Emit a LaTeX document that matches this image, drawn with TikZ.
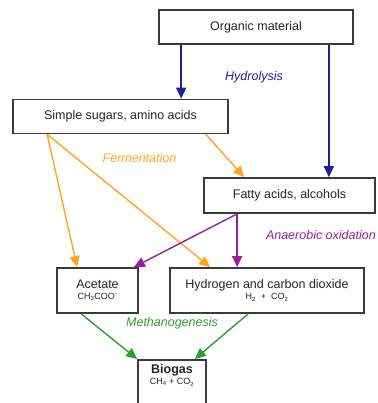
\documentclass[tikz,border=0pt]{standalone}
\usepackage{fontspec}
\setmainfont{Liberation Sans}
\usetikzlibrary{arrows.meta}
\tikzset{>={Triangle[length=11pt,width=10pt]}}

\definecolor{hydroblue}{HTML}{1F1F99}
\definecolor{fermorange}{HTML}{FFA51F}
\definecolor{anoxpurple}{HTML}{9A1F9E}
\definecolor{methgreen}{HTML}{2F9E2F}
\definecolor{boxline}{HTML}{3A3A3A}

\newcommand{\formula}[1]{{\fontsize{9}{10}\selectfont #1}}

\tikzset{
  box/.style={draw=boxline,line width=1.7pt,fill=white,inner sep=2pt,align=center,
    text=black!85,font=\fontsize{12.5}{14}\selectfont},
  flow/.style={->,line width=1.4pt},
  phase/.style={font=\fontsize{12.5}{14}\selectfont\itshape},
}

\begin{document}
\begin{tikzpicture}[x=1pt,y=-1pt]
      \path[use as bounding box] (0,0) rectangle (377,403);
      \clip (0,0) rectangle (377,403);

      \node[box,minimum width=194pt,minimum height=34pt](organic) at (256,27) {Organic material};
      \node[box,minimum width=215pt,minimum height=34pt](sugars) at (120.5,116.5) {Simple sugars, amino acids};
      \node[box,minimum width=171pt,minimum height=35pt](fatty) at (289.5,195.5) {Fatty acids, alcohols};
      \node[box,minimum width=81pt,minimum height=45pt](acetate) at (97.5,290.5)
        {Acetate\\[-3pt]\formula{CH\textsubscript{3}COO\textsuperscript{-}}};
      \node[box,minimum width=194pt,minimum height=45pt](hydrogen) at (267,290.5)
        {Hydrogen and carbon dioxide\\[-3pt]\formula{H\textsubscript{2} \ + \ CO\textsubscript{2}}};
      \node[box,anchor=north,minimum width=68pt,inner ysep=5pt,text depth=30pt](biogas) at (172,359)
        {\textbf{Biogas}\\[-3pt]\formula{CH\textsubscript{4} + CO\textsubscript{2}}};

      \node[phase,text=hydroblue](hydrolysis) at (254,77) {Hydrolysis};
      \node[phase,text=fermorange](fermentation) at (139.5,158) {Fermentation};
      \node[phase,text=anoxpurple,anchor=east,inner xsep=1pt](oxidation) at (377,235) {Anaerobic oxidation};
      \node[phase,text=methgreen](methanogenesis) at (172,323) {Methanogenesis};

      \draw[flow,hydroblue] ([xshift=23pt]organic.south west) -- ([xshift=23pt]organic.south west |- sugars.north);
      \draw[flow,hydroblue] ([xshift=-25pt]organic.south east) -- ([xshift=-25pt]organic.south east |- fatty.north);

      \draw[flow,fermorange] ([xshift=35pt]sugars.south west) -- ([xshift=21pt]acetate.north west);
      \draw[flow,fermorange] ([xshift=35pt]sugars.south west) -- ([xshift=41pt]hydrogen.north west);
      \draw[flow,fermorange] ([xshift=-23pt]sugars.south east) -- ([xshift=41pt]fatty.north west);

      \draw[flow,anoxpurple] ([xshift=34pt]fatty.south west) -- ([xshift=-5pt]acetate.north east);
      \draw[flow,anoxpurple] ([xshift=34pt]fatty.south west) -- ([xshift=34pt]fatty.south west |- hydrogen.north);

      \draw[flow,methgreen] ([xshift=25pt]acetate.south west) -- (biogas.north west);
      \draw[flow,methgreen] ([xshift=79pt]hydrogen.south west) -- ([xshift=-12pt]biogas.north east);
\end{tikzpicture}
\end{document}
